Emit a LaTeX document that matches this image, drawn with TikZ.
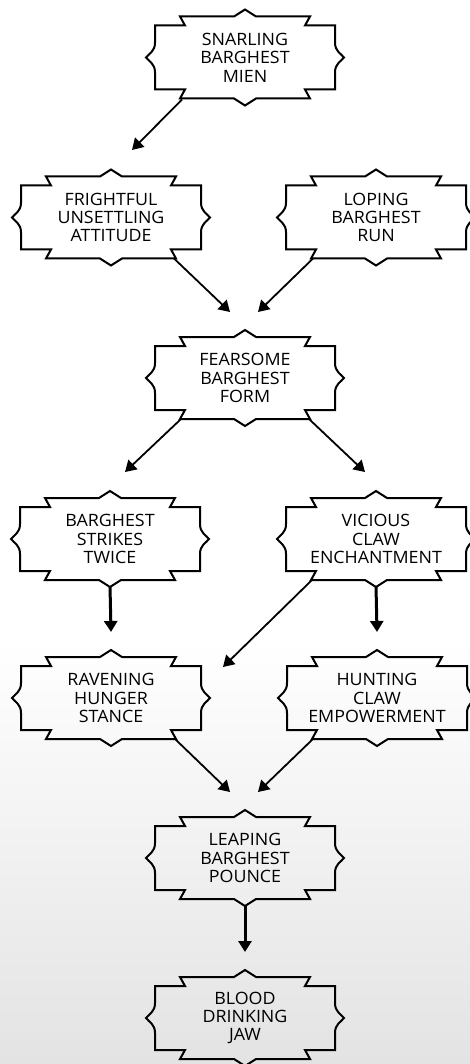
\documentclass[tikz,border=0pt]{standalone}
\usepackage{fontspec}
\setmainfont[FakeStretch=1.05]{Open Sans}
\usetikzlibrary{arrows.meta,calc}
\tikzset{
  nd/.style={minimum width=180pt, minimum height=64pt, inner sep=0pt, align=center,
    font=\fontsize{17}{18.4}\selectfont},
  frm/.style={line width=2pt, line join=miter},
  arr/.style={-{Triangle[width=13pt,length=11pt]}, line width=1.8pt},
  varr/.style={arr, line width=3pt}
}
\newcommand\bframe[1]{\draw[frm,shift={(#1.center)}]
  (-90,-32) -- (-60,-32) -- (-65,-41) -- (-11,-41) -- (0,-48) -- (11,-41) -- (65,-41) -- (60,-32) -- (90,-32) -- (90,-15)
  .. controls (90,-6) and (96,-4) .. (99,0) .. controls (96,4) and (90,6) .. (90,15)
  -- (90,32) -- (60,32) -- (65,41) -- (11,41) -- (0,48) -- (-11,41) -- (-65,41) -- (-60,32) -- (-90,32) -- (-90,15)
  .. controls (-90,6) and (-96,4) .. (-99,0) .. controls (-96,-4) and (-90,-6) .. (-90,-15) -- cycle;}
\begin{document}
\begin{tikzpicture}[x=1pt,y=-1pt]
\useasboundingbox (0,0) rectangle (470,1064);
\shade[top color=white, bottom color=black!11] (0,640) rectangle (470,1064);
\node[nd] (snarl) at (245,57.5) {SNARLING\\BARGHEST\\MIEN};
\node[nd] (fright) at (111,217.5) {FRIGHTFUL\\UNSETTLING\\ATTITUDE};
\node[nd] (loping) at (376,217.5) {LOPING\\BARGHEST\\RUN};
\node[nd] (fear) at (245,378) {FEARSOME\\BARGHEST\\FORM};
\node[nd] (strikes) at (110,539) {BARGHEST\\STRIKES\\TWICE};
\node[nd] (vicious) at (376,539) {VICIOUS\\CLAW\\ENCHANTMENT};
\node[nd] (raven) at (111,698) {RAVENING\\HUNGER\\STANCE};
\node[nd] (hunt) at (377,698) {HUNTING\\CLAW\\EMPOWERMENT};
\node[nd] (leap) at (245,858) {LEAPING\\BARGHEST\\POUNCE};
\node[nd] (blood) at (245,1018) {BLOOD\\DRINKING\\JAW};
\foreach \n in {snarl,fright,loping,fear,strikes,vicious,raven,hunt,leap,blood} {\bframe{\n}}
\draw[arr] ($(snarl.center)+(-63,42)$) -- ($(fright.center)+(21,-67.5)$);
\draw[arr] ($(fright.center)+(63,41)$) -- ($(fear.center)+(-15,-66)$);
\draw[arr] ($(loping.center)+(-63,41)$) -- ($(fear.center)+(13,-66)$);
\draw[arr] ($(fear.center)+(-64,41)$) -- ($(strikes.center)+(15,-67)$);
\draw[arr] ($(fear.center)+(64,41)$) -- ($(vicious.center)+(-11,-67)$);
\draw[varr] ($(strikes.center)+(0,47)$) -- ($(raven.center)+(0,-66)$);
\draw[varr] ($(vicious.center)+(0,47)$) -- ($(hunt.center)+(0,-66)$);
\draw[arr] ($(vicious.center)+(-63,40)$) -- ($(raven.center)+(112,-31)$);
\draw[arr] ($(raven.center)+(63,40)$) -- ($(leap.center)+(-15,-66)$);
\draw[arr] ($(hunt.center)+(-63,40)$) -- ($(leap.center)+(13,-66)$);
\draw[varr] ($(leap.center)+(0,47)$) -- ($(blood.center)+(0,-66)$);
\end{tikzpicture}
\end{document}
